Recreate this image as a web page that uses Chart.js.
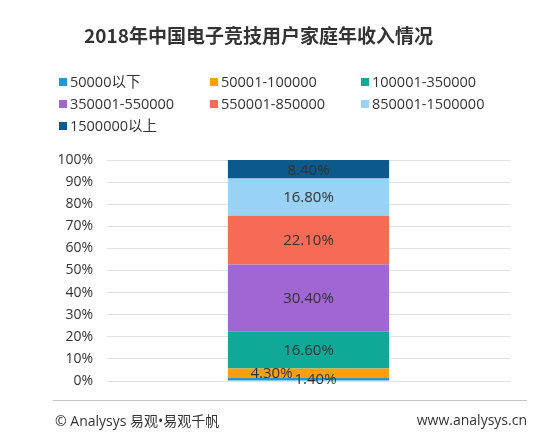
<!DOCTYPE html>
<html>
<head>
<meta charset="utf-8">
<script src="https://cdn.jsdelivr.net/npm/chart.js@4"></script>
<style>
  html,body{margin:0;padding:0;background:#fff;}
  #wrap{position:relative;width:555px;height:444px;overflow:hidden;font-family:"Open Sans","Noto Sans CJK SC",sans-serif;color:#333;}
  #title{position:absolute;left:0;width:517px;top:21px;text-align:center;font-size:19px;font-weight:bold;color:#333;font-family:"Noto Sans CJK SC","Open Sans",sans-serif;letter-spacing:0px;}
  #legend{position:absolute;left:59px;top:72px;width:480px;}
  .li{position:absolute;font-size:14.5px;line-height:20px;white-space:nowrap;}
  .li span.sw{display:inline-block;width:8px;height:8px;margin-right:3px;vertical-align:1px;}
  #chartbox{position:absolute;left:0;top:0;width:555px;height:444px;}
  #rule{position:absolute;left:53px;width:474px;top:400px;height:1px;background:#c4c4c4;}
  #fl{position:absolute;left:55px;top:410px;font-size:14px;}
  #fr{position:absolute;right:28px;top:410px;font-size:14px;}
</style>
</head>
<body>
<div id="wrap">
  <div id="chartbox"><canvas id="c" width="555" height="444"></canvas></div>
  <div id="title">2018年中国电子竞技用户家庭年收入情况</div>
  <div id="legend"></div>
  <div id="rule"></div>
  <div id="fl">© Analysys 易观•易观千帆</div>
  <div id="fr">www.analysys.cn</div>
</div>
<script>
const categories = ["2018"];
const seriesNames = ["50000以下","50001-100000","100001-350000","350001-550000","550001-850000","850001-1500000","1500000以上"];
const seriesValues = [1.4, 4.3, 16.6, 30.4, 22.1, 16.8, 8.4];
const yTickLabels = ["0%","10%","20%","30%","40%","50%","60%","70%","80%","90%","100%"];

const colors = ["#1E98D8","#FF9F10","#10A896","#A066D3","#F66B55","#98D2F5","#0C5A8B"];
const labelShiftX = [7, -37, 0, 0, 0, 0, 0];

// Legend (HTML, fixed columns)
const legendEl = document.getElementById('legend');
const colX = [0, 151, 302];
seriesNames.forEach((n, i) => {
  const d = document.createElement('div');
  d.className = 'li';
  d.style.left = colX[i % 3] + 'px';
  d.style.top = (Math.floor(i / 3) * 22) + 'px';
  d.innerHTML = '<span class="sw" style="background:' + colors[i] + '"></span>' + n;
  legendEl.appendChild(d);
});

const labelPlugin = {
  id: 'segLabels',
  afterDatasetsDraw(chart) {
    const ctx = chart.ctx;
    ctx.save();
    ctx.font = '15px "Open Sans","Noto Sans CJK SC",sans-serif';
    ctx.fillStyle = '#333';
    ctx.textAlign = 'center';
    ctx.textBaseline = 'middle';
    chart.data.datasets.forEach((ds, i) => {
      const meta = chart.getDatasetMeta(i);
      meta.data.forEach((el, j) => {
        const yc = (el.y + el.base) / 2;
        ctx.fillText(ds.data[j].toFixed(2) + '%', el.x + labelShiftX[i], yc + 1);
      });
    });
    ctx.restore();
  }
};

new Chart(document.getElementById('c'), {
  type: 'bar',
  data: {
    labels: categories,
    datasets: seriesNames.map((n, i) => ({
      label: n,
      data: [seriesValues[i]],
      backgroundColor: colors[i],
      borderWidth: 0,
      barPercentage: 0.4,
      categoryPercentage: 1.0
    }))
  },
  options: {
    responsive: false,
    animation: false,
    devicePixelRatio: 1,
    layout: { padding: { left: 0, right: 45, top: 160, bottom: 63 } },
    plugins: { legend: { display: false }, title: { display: false }, tooltip: { enabled: false } },
    scales: {
      x: { stacked: true, display: false },
      y: {
        stacked: true,
        min: 0, max: 100,
        border: { display: false },
        grid: { color: '#e2e2e2', drawTicks: false, lineWidth: 1 },
        ticks: {
          stepSize: 10,
          padding: 14,
          color: '#333',
          font: { size: 14, family: '"Open Sans","Noto Sans CJK SC",sans-serif' },
          callback: (v) => yTickLabels[Math.round(v / 10)]
        },
        afterFit: (s) => { s.width = 107; }
      }
    }
  },
  plugins: [labelPlugin]
});
</script>
</body>
</html>
